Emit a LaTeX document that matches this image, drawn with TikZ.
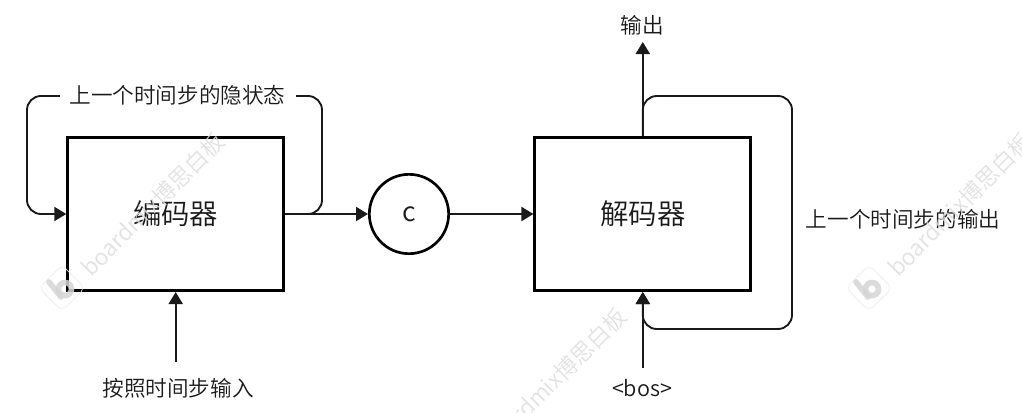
\documentclass[tikz,border=0pt]{standalone}
\usepackage{fontspec}
\setmainfont{Noto Sans CJK SC DemiLight}
\usetikzlibrary{arrows.meta}
\definecolor{ink}{HTML}{1A1A1A}
\definecolor{wmk}{HTML}{DEDEDE}
\tikzset{
  blockbox/.style={draw=black,line width=2.1pt,fill=white,minimum width=162pt,minimum height=115pt,inner sep=0pt,text=ink,font=\fontsize{21.3}{21.3}\selectfont},
  circbox/.style={draw=black,line width=2pt,fill=white,circle,minimum size=59.5pt,inner sep=0pt,text=ink,font=\fontsize{20}{20}\selectfont},
  lbl/.style={text=ink,inner sep=0pt,font=\fontsize{16.2}{16.2}\selectfont},
  gaplbl/.style={lbl,fill=white,inner xsep=7.5pt,inner ysep=2pt},
  arrowline/.style={draw=ink,line width=1.6pt,-{Triangle[length=9pt,width=10.5pt]}},
  loopline/.style={draw=ink,line width=1.4pt,rounded corners=10.5pt},
  wmtext/.style={text=wmk,inner sep=0pt,anchor=west,rotate=45,font=\fontsize{17}{17}\selectfont},
  wmframe/.style={draw=wmk!55,line width=.6pt,rounded corners=4pt,fill=none},
  wmmark/.style={draw=wmk!90!gray,line width=4.2pt,line cap=round},
}
\newcommand{\wmlogo}[2]{%
  \begin{scope}[shift={(#1,#2)}]
    \draw[wmframe] (0,-23)--(23,0)--(0,23)--(-23,0)--cycle;
    \draw[wmmark] (-13,-6)--(-1,9);
    \draw[wmmark] (3,1) circle[radius=6.5];
  \end{scope}}
\begin{document}
\begin{tikzpicture}[x=0.75pt,y=-0.75pt]
\useasboundingbox (0,0) rectangle (1022,412);
\fill[white] (0,0) rectangle (1022,412);
\coordinate (enctr) at (322,96);
\coordinate (enctl) at (27,96);
\coordinate (decout) at (642.8,42);
\coordinate (decin) at (642.8,368);
\coordinate (encin) at (175.7,362);
\coordinate (dectr) at (792,96);
\coordinate (decbr) at (792,329);
\node[blockbox] (enc) at (175.7,214) {编码器};
\node[blockbox] (dec) at (642.8,214) {解码器};
\node[circbox] (c) at (409,214) {\raisebox{-1.5pt}{c}};
\draw[loopline,-{Triangle[length=9pt,width=10.5pt]}] (enc.east) -| (enctr) -- (enctl) |- (enc.west);
\draw[loopline,-{Triangle[length=9pt,width=10.5pt]}] (dec.north) |- (dectr) -- (decbr) -- (decbr -| dec.south) -- (dec.south);
\node[gaplbl] (state) at (177.5,95) {上一个时间步的隐状态};
\node[lbl] (out) at (642,25.5) {输出};
\node[lbl] (bos) at (642,388) {<bos>};
\node[lbl] (inp) at (178,388) {按照时间步输入};
\node[lbl] (prev) at (903,219) {上一个时间步的输出};
\draw[arrowline] (enc.east) -- (c.west);
\draw[arrowline] (c.east) -- (dec.west);
\draw[arrowline] (dec.north) -- (decout);
\draw[arrowline] (decin) -- (dec.south);
\draw[arrowline] (encin) -- (enc.south);
\begin{scope}[opacity=.85]
\wmlogo{62}{288}
\wmlogo{869}{288}
\node[wmtext] (wma) at (85,272) {boardmix博思白板};
\node[wmtext] (wmb) at (892,272) {boardmix博思白板};
\node[wmtext] (wmc) at (487,447) {boardmix博思白板};
\end{scope}
\end{tikzpicture}
\end{document}
